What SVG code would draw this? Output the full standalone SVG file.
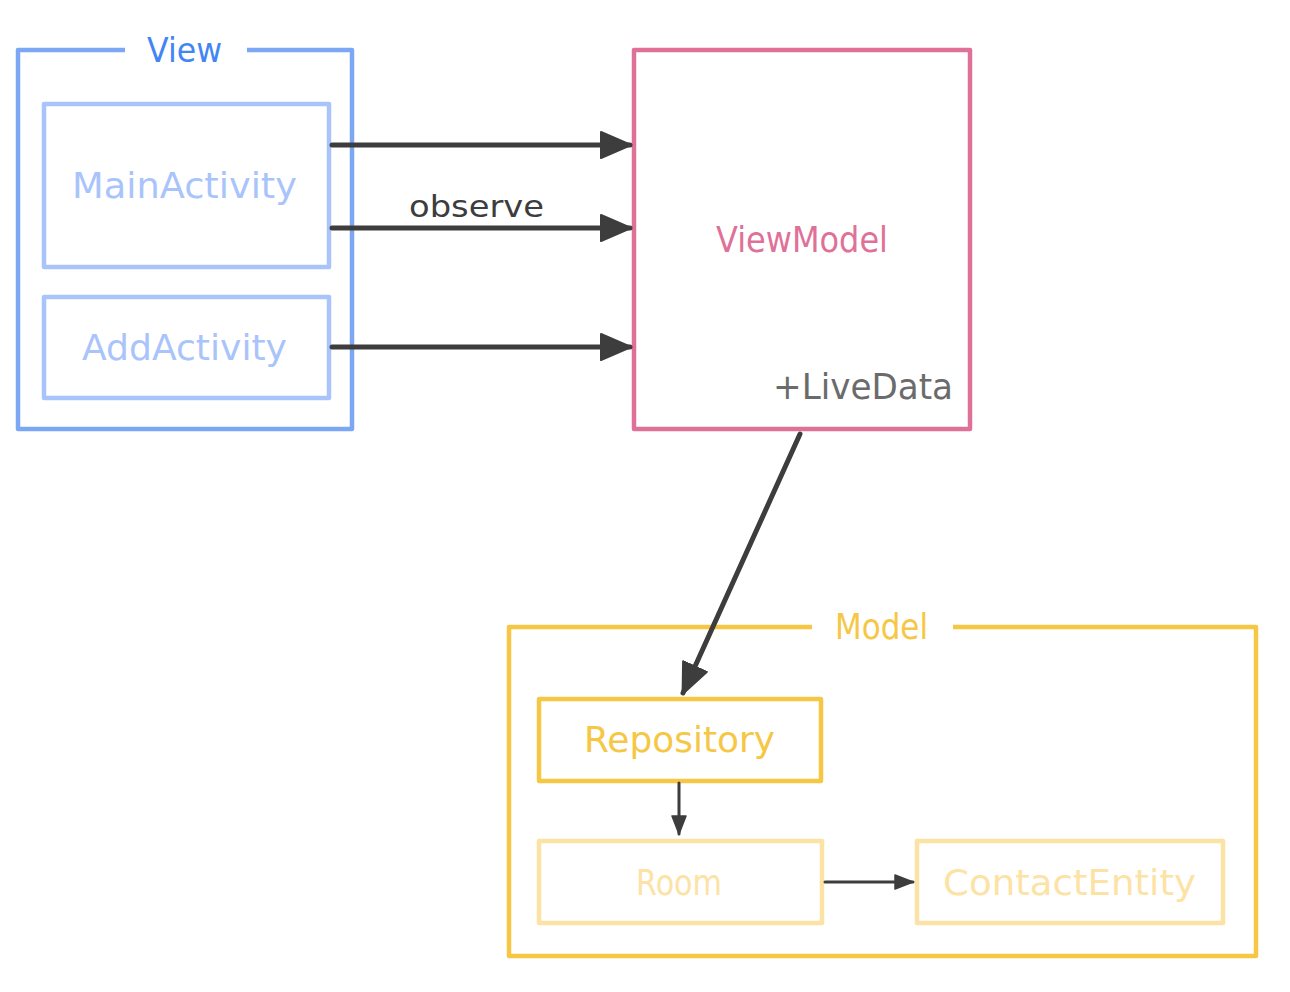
<svg xmlns="http://www.w3.org/2000/svg" width="1290" height="992" viewBox="0 0 1290 992">
<style>
text{font-family:"DejaVu Sans","Liberation Sans",sans-serif;}
.box{fill:none;stroke-width:4.5;stroke-linejoin:round;}
.view{stroke:#7ba7f5;}
.vin{stroke:#a9c4fb;}
.vm{stroke:#df7199;}
.model{stroke:#f6c745;}
.rin{stroke:#fce3a5;}
.conn{stroke:#3d3d3d;fill:none;stroke-linecap:round;}
</style>
<defs>
<marker id="big" markerUnits="userSpaceOnUse" viewBox="0 0 32 28" refX="30" refY="14" markerWidth="32" markerHeight="28" orient="auto">
<path d="M1,1 L31,14 L1,27 Z" fill="#3d3d3d" stroke="#3d3d3d" stroke-width="2" stroke-linejoin="round"/>
</marker>
<marker id="small" markerUnits="userSpaceOnUse" viewBox="0 0 20 16" refX="19" refY="8" markerWidth="20" markerHeight="16" orient="auto">
<path d="M1,1 L19,8 L1,15 Z" fill="#3d3d3d" stroke="#3d3d3d" stroke-width="1.5" stroke-linejoin="round"/>
</marker>
</defs>
<g id="view">
<path class="box view" d="M125,50 L18,50 L18,429 L352,429 L352,50 L247,50"/>
<text x="147" y="62" font-size="33" fill="#4285f4" textLength="75" lengthAdjust="spacingAndGlyphs">View</text>
</g>
<g id="mainactivity">
<rect class="box vin" x="44" y="104" width="285" height="163"/>
<text x="72" y="198" font-size="35" fill="#a9c4fb" textLength="225" lengthAdjust="spacingAndGlyphs">MainActivity</text>
</g>
<g id="addactivity">
<rect class="box vin" x="44" y="297" width="285" height="101"/>
<text x="82" y="360" font-size="35" fill="#a9c4fb" textLength="205" lengthAdjust="spacingAndGlyphs">AddActivity</text>
</g>
<g id="viewmodel">
<rect class="box vm" x="634" y="50" width="336" height="379"/>
<text x="716" y="252" font-size="35" fill="#df7199" textLength="172" lengthAdjust="spacingAndGlyphs">ViewModel</text>
<text x="773" y="399" font-size="35" fill="#6b6b6b" textLength="180" lengthAdjust="spacingAndGlyphs">+LiveData</text>
</g>
<g id="model">
<path class="box model" d="M812,627 L509,627 L509,956 L1256,956 L1256,627 L953,627"/>
<text x="835" y="639" font-size="35" fill="#f6c745" textLength="93" lengthAdjust="spacingAndGlyphs">Model</text>
</g>
<g id="repository">
<rect class="box model" x="539" y="699" width="282" height="82"/>
<text x="584" y="752" font-size="35" fill="#f6c745" textLength="191" lengthAdjust="spacingAndGlyphs">Repository</text>
</g>
<g id="room">
<rect class="box rin" x="539" y="841" width="283" height="82"/>
<text x="636" y="895" font-size="35" fill="#fce3a5" textLength="86" lengthAdjust="spacingAndGlyphs">Room</text>
</g>
<g id="contactentity">
<rect class="box rin" x="917" y="841" width="306" height="82"/>
<text x="943" y="895" font-size="35" fill="#fce3a5" textLength="253" lengthAdjust="spacingAndGlyphs">ContactEntity</text>
</g>
<g id="connectors">
<line class="conn" x1="332" y1="145" x2="630" y2="145" stroke-width="5" marker-end="url(#big)"/>
<line class="conn" x1="332" y1="228" x2="630" y2="228" stroke-width="5" marker-end="url(#big)"/>
<text x="409" y="217" font-size="30" fill="#3d3d3d" textLength="135" lengthAdjust="spacingAndGlyphs">observe</text>
<line class="conn" x1="332" y1="347" x2="630" y2="347" stroke-width="5" marker-end="url(#big)"/>
<line class="conn" x1="800" y1="434" x2="683" y2="693" stroke-width="5" marker-end="url(#big)"/>
<line class="conn" x1="679" y1="783" x2="679" y2="834" stroke-width="3" marker-end="url(#small)"/>
<line class="conn" x1="825" y1="882" x2="913" y2="882" stroke-width="3" marker-end="url(#small)"/>
</g>
</svg>
